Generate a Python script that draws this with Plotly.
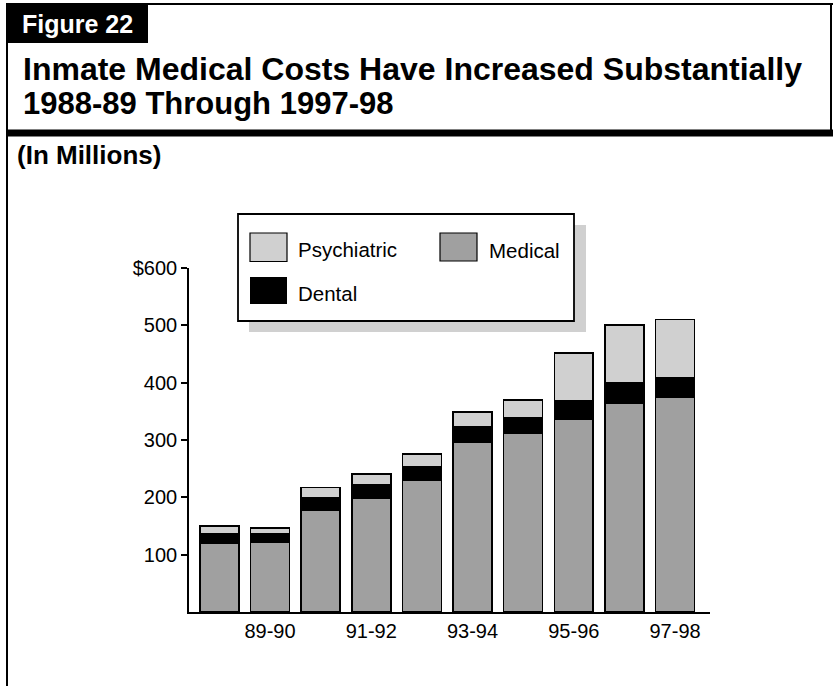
import plotly.graph_objects as go

# ---- data (in $ millions) ----
years = ["88-89", "89-90", "90-91", "91-92", "92-93",
         "93-94", "94-95", "95-96", "96-97", "97-98"]
medical = [120, 122, 178, 198, 230, 297, 312, 336, 365, 374]
dental = [16, 14, 22, 23, 23, 26, 26, 32, 35, 34]
psychiatric = [14, 11, 17, 20, 23, 26, 32, 84, 101, 102]
x_tick_vals = ["89-90", "91-92", "93-94", "95-96", "97-98"]
y_tick_vals = [100, 200, 300, 400, 500, 600]
y_tick_text = ["100", "200", "300", "400", "500", "$600"]

FONT = "Liberation Sans, Arial, sans-serif"
MED_C, DEN_C, PSY_C = "#a0a0a0", "#000000", "#d0d0d0"

# plot-area geometry in pixels
FW, FH = 833, 686
L, R, T, B = 189, 710, 268, 612
W, H = R - L, B - T


def px(x):
    return (x - L) / W


def py(y):
    return (B - y) / H


fig = go.Figure()
for name, vals, col in [("Medical", medical, MED_C),
                        ("Dental", dental, DEN_C),
                        ("Psychiatric", psychiatric, PSY_C)]:
    fig.add_trace(go.Bar(x=years, y=vals, name=name,
                         marker=dict(color=col, line=dict(color="black", width=1.6))))

shapes = []
ann = []


def rect(x0, y0, x1, y1, fill, line_w=0, line_c="black"):
    shapes.append(dict(type="rect", xref="paper", yref="paper",
                       x0=px(x0), x1=px(x1), y0=py(y1), y1=py(y0),
                       fillcolor=fill, line=dict(width=line_w, color=line_c),
                       layer="above"))


def line(x0, y0, x1, y1, w=2):
    shapes.append(dict(type="line", xref="paper", yref="paper",
                       x0=px(x0), x1=px(x1), y0=py(y0), y1=py(y1),
                       line=dict(width=w, color="black"), layer="above"))


def text(x, y, s, size, color="black", bold=False):
    if bold:
        s = "<b>" + s + "</b>"
    ann.append(dict(xref="paper", yref="paper", x=px(x), y=py(y), text=s,
                    showarrow=False, xanchor="left", yanchor="middle",
                    font=dict(family=FONT, size=size, color=color)))


# frame
rect(6, 3, 148, 43, "black")
line(148, 4, 833, 4, 2)
line(831, 3, 831, 133, 2)
line(7, 3, 7, 686, 2)
rect(6, 129.5, 833, 136.5, "black")

# titles
text(20, 24, "Figure 22", 25, "white", True)
text(21, 69, "Inmate Medical Costs Have Increased Substantially", 32, bold=True)
text(21, 103, "1988-89 Through 1997-98", 31, bold=True)
text(15, 155, "(In Millions)", 26, bold=True)

# legend (shadow box + frame + swatches)
rect(249, 225, 586, 332, PSY_C)
rect(238, 214, 574, 321, "white", 1.8)
rect(250, 233, 287, 261.5, PSY_C, 1.2)
rect(440, 233, 477, 261, MED_C, 1.2)
rect(250, 277, 287, 304, DEN_C, 0)
text(296, 249.5, "Psychiatric", 20.5)
text(487, 250.5, "Medical", 20.5)
text(296, 293.5, "Dental", 20.5)

fig.update_layout(
    width=FW, height=FH,
    margin=dict(l=L, r=FW - R, t=T, b=FH - B),
    barmode="stack", bargap=0.23,
    plot_bgcolor="white", paper_bgcolor="white",
    showlegend=False,
    font=dict(family=FONT, color="black"),
    shapes=shapes, annotations=ann,
    xaxis=dict(type="category", range=[-0.6, 9.69],
               tickvals=x_tick_vals, ticktext=x_tick_vals,
               showline=True, linecolor="black", linewidth=1.6,
               ticks="", showgrid=False, zeroline=False,
               tickfont=dict(family=FONT, size=20, color="black")),
    yaxis=dict(range=[0, 600], tickvals=y_tick_vals, ticktext=y_tick_text,
               showline=True, linecolor="black", linewidth=1.6,
               ticks="outside", ticklen=6, tickwidth=1.6, tickcolor="black",
               showgrid=False, zeroline=False,
               tickfont=dict(family=FONT, size=20, color="black")),
)

fig.write_html("out.html")
